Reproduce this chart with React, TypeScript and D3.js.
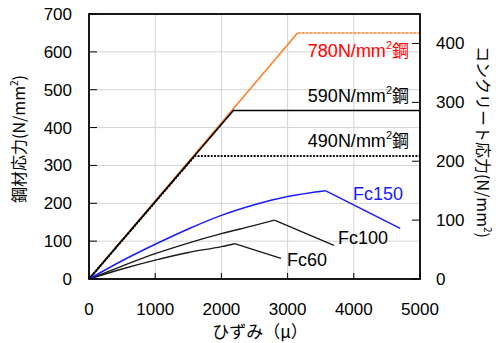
import React from "react";
import * as d3 from "d3";

// strain (μ) vs stress
const steel780 = [[0, 0], [3150, 650], [5000, 650]];
const steel590 = [[0, 0], [2180, 445], [5000, 445]];
const steel490 = [[0, 0], [1600, 325], [5000, 325]];

// concrete: rising branch up to the peak, then the falling branch
const fc150 = [[0, 0], [500, 31], [1000, 59], [1500, 85], [2000, 108], [2500, 126], [3000, 140], [3570, 150], [4700, 86]];
const fc100 = [[0, 0], [500, 22], [1000, 43], [1500, 61], [2000, 77], [2500, 91], [2800, 100], [3700, 57]];
const fc60 = [[0, 0], [500, 17], [1000, 32], [1500, 45], [2000, 55], [2200, 60], [2900, 35]];

const xTicks = [0, 1000, 2000, 3000, 4000, 5000];
const leftTicks = [0, 100, 200, 300, 400, 500, 600, 700];
const rightTicks = [0, 100, 200, 300, 400];

const W = 496;
const H = 343;
const left = 89, right = 420, top = 14, bottom = 279;

const x = d3.scaleLinear().domain([0, 5000]).range([left, right]);
const yL = d3.scaleLinear().domain([0, 700]).range([bottom, top]);
const yR = d3.scaleLinear().domain([0, 450]).range([bottom, top]);

const num = "'Liberation Sans', Arial, sans-serif";
const jp = "'Noto Sans CJK JP', sans-serif";

function peakIndex(d: number[][]) {
  return d3.maxIndex(d, p => p[1]);
}

export default function App() {
  const lineL = d3.line<number[]>().x(d => x(d[0])).y(d => yL(d[1]));
  const rise = d3.line<number[]>().x(d => x(d[0])).y(d => yR(d[1])).curve(d3.curveMonotoneX);
  const fall = d3.line<number[]>().x(d => x(d[0])).y(d => yR(d[1]));

  const concrete = (d: number[][], color: string, w: number) => {
    const k = peakIndex(d);
    return (
      <g>
        <path d={rise(d.slice(0, k + 1)) || ""} fill="none" stroke={color} strokeWidth={w} />
        <path d={fall(d.slice(k)) || ""} fill="none" stroke={color} strokeWidth={w} />
      </g>
    );
  };

  const steelLabel = (v: string, color: string, yPos: number) => (
    <text x={right - 11} y={yPos} textAnchor="end" fontSize={18} fill={color} fontFamily={num}>
      {v}N/mm<tspan fontSize={11} dy={-8}>2</tspan>
      <tspan dy={8} fontFamily={jp} fontSize={17}>鋼</tspan>
    </text>
  );

  return (
    <svg width={W} height={H} style={{ position: "absolute", left: 0, top: 0 }}>
      <rect width={W} height={H} fill="#fff" />
      {/* grid */}
      {xTicks.slice(1, -1).map(t => (
        <line key={"gx" + t} x1={x(t)} x2={x(t)} y1={top} y2={bottom} stroke="#d4d4d4" strokeWidth={1} />
      ))}
      {leftTicks.slice(1, -1).map(t => (
        <line key={"gy" + t} x1={left} x2={right} y1={yL(t)} y2={yL(t)} stroke="#d4d4d4" strokeWidth={1} />
      ))}

      {/* ticks, inward */}
      {leftTicks.map(t => (
        <line key={"tl" + t} x1={left} x2={left + 8} y1={yL(t)} y2={yL(t)} stroke="#000" />
      ))}
      {rightTicks.map(t => (
        <line key={"tr" + t} x1={right - 8} x2={right} y1={yR(t)} y2={yR(t)} stroke="#000" />
      ))}
      {xTicks.map(t => (
        <line key={"tb" + t} x1={x(t)} x2={x(t)} y1={bottom - 6} y2={bottom} stroke="#000" />
      ))}

      {/* steel */}
      <path d={lineL(steel780.slice(0, 2)) || ""} fill="none" stroke="#ff7f27" strokeWidth={1.6} />
      <path d={lineL(steel780.slice(1)) || ""} fill="none" stroke="#ff7f27" strokeWidth={1.5} strokeDasharray="3,1" />
      <path d={lineL(steel490) || ""} fill="none" stroke="#111" strokeWidth={2} strokeDasharray="2,1.3" />
      <path d={lineL(steel590) || ""} fill="none" stroke="#000" strokeWidth={1.6} />

      {/* concrete */}
      {concrete(fc60, "#1a1a1a", 1.4)}
      {concrete(fc100, "#1a1a1a", 1.4)}
      {concrete(fc150, "#1a1aff", 1.5)}

      {/* frame */}
      <rect x={left} y={top} width={right - left} height={bottom - top} fill="none" stroke="#000" strokeWidth={1.8} />

      {steelLabel("780", "#ff0000", yL(650) + 24)}
      {steelLabel("590", "#000", yL(445) - 9)}
      {steelLabel("490", "#000", yL(325) - 9)}

      <text x={353} y={200} fontSize={18} fill="#1a1aff" fontFamily={num}>Fc150</text>
      <text x={338} y={244} fontSize={18} fill="#000" fontFamily={num}>Fc100</text>
      <text x={287} y={266} fontSize={18} fill="#000" fontFamily={num}>Fc60</text>

      {/* tick labels */}
      {leftTicks.map(t => (
        <text key={"ll" + t} x={72} y={yL(t)} dy="0.35em" textAnchor="end" fontSize={17} fontFamily={num}>{t}</text>
      ))}
      {rightTicks.map(t => (
        <text key={"rl" + t} x={436} y={yR(t)} dy="0.35em" textAnchor="start" fontSize={17} fontFamily={num}>{t}</text>
      ))}
      {xTicks.map(t => (
        <text key={"xl" + t} x={x(t)} y={309} dy="0.35em" textAnchor="middle" fontSize={17} fontFamily={num}>{t}</text>
      ))}

      {/* axis titles */}
      <text transform="translate(25,139) rotate(-90)" textAnchor="middle" fontSize={16} fontFamily={jp}>
        鋼材応力(N/mm<tspan fontSize={10} dy={-7}>2</tspan><tspan dy={7}>)</tspan>
      </text>
      <text transform="translate(477,142) rotate(90)" textAnchor="middle" fontSize={16} fontFamily={jp}>
        コンクリート応力(N/mm<tspan fontSize={10} dy={-7}>2</tspan><tspan dy={7}>)</tspan>
      </text>
      <text x={260} y={338} textAnchor="middle" fontSize={17} fontFamily={jp}>ひずみ（μ）</text>
    </svg>
  );
}
